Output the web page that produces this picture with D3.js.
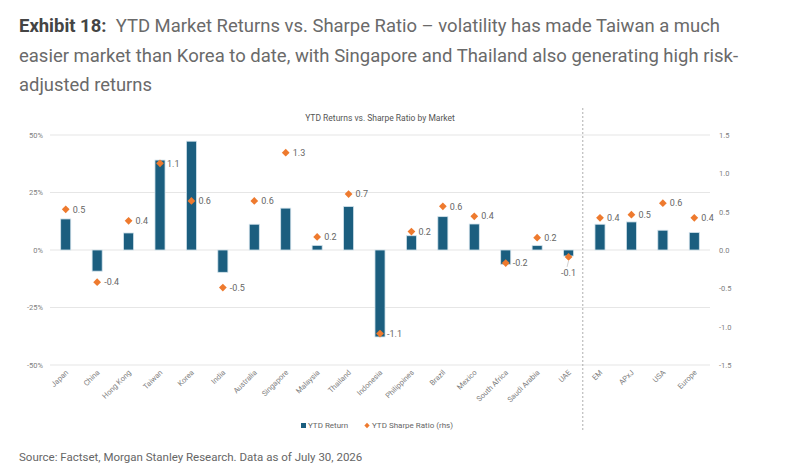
<!DOCTYPE html>
<html>
<head>
<meta charset="utf-8">
<script src="https://cdn.jsdelivr.net/npm/d3@7"></script>
<style>
  body { margin: 0; background: #fff; }
  text { font-family: Roboto, "Noto Sans", sans-serif; }
</style>
</head>
<body>
<svg id="chart" width="794" height="476"></svg>
<script>
// ---- data
const markets = ["Japan", "China", "Hong Kong", "Taiwan", "Korea", "India", "Australia", "Singapore",
  "Malaysia", "Thailand", "Indonesia", "Philippines", "Brazil", "Mexico", "South Africa",
  "Saudi Arabia", "UAE", "EM", "APxJ", "USA", "Europe"];
const ytdReturn = [13.5, -9.2, 7.4, 39.1, 47.3, -9.7, 11.2, 18.2, 2.0, 18.9, -37.8, 6.2, 14.5, 11.3,
  -6.2, 1.9, -2.6, 11.2, 12.2, 8.6, 7.6];
const ytdSharpe = [0.53, -0.42, 0.38, 1.13, 0.64, -0.49, 0.64, 1.27, 0.17, 0.73, -1.09, 0.24, 0.57,
  0.44, -0.17, 0.16, -0.09, 0.42, 0.46, 0.61, 0.42];
const leftTicks = [-50, -25, 0, 25, 50];
const rightTicks = [-1.5, -1.0, -0.5, 0.0, 0.5, 1.0, 1.5];
const titleLines = [
  "YTD Market Returns vs. Sharpe Ratio \u2013 volatility has made Taiwan a much",
  "easier market than Korea to date, with Singapore and Thailand also generating high risk-",
  "adjusted returns"
];

const svg = d3.select("#chart");
const fmt1 = v => d3.format(".1f")(v).replace("\u2212", "-");

// ---- header
const t1 = svg.append("text").attr("x", 19).attr("y", 32)
  .attr("font-size", 18).attr("fill", "#6a6a6a")
  .attr("textLength", 701).attr("lengthAdjust", "spacingAndGlyphs");
t1.append("tspan").attr("font-weight", "bold").attr("fill", "#444").text("Exhibit 18:");
t1.append("tspan").text("\u00a0 " + titleLines[0]);
svg.append("text").attr("x", 19).attr("y", 62)
  .attr("font-size", 18).attr("fill", "#6a6a6a")
  .attr("textLength", 719).attr("lengthAdjust", "spacingAndGlyphs")
  .text(titleLines[1]);
svg.append("text").attr("x", 19).attr("y", 91)
  .attr("font-size", 18).attr("fill", "#6a6a6a")
  .attr("textLength", 133).attr("lengthAdjust", "spacingAndGlyphs")
  .text(titleLines[2]);

// ---- scales
const x = d3.scaleBand().domain(markets).range([50, 710]).paddingInner(0.68).paddingOuter(0.34);
const yL = d3.scaleLinear().domain([-50, 50]).range([365, 135]);
const yR = d3.scaleLinear().domain([-1.5, 1.5]).range([365, 135]);
const cx = d => x(d) + x.bandwidth() / 2;

svg.append("text").attr("x", 380).attr("y", 121).attr("text-anchor", "middle")
  .attr("font-size", 8.5).attr("fill", "#555")
  .text("YTD Returns vs. Sharpe Ratio by Market");

// gridlines
svg.append("g").selectAll("line").data(leftTicks).join("line")
  .attr("x1", 50).attr("x2", 710)
  .attr("y1", d => yL(d)).attr("y2", d => yL(d))
  .attr("stroke", "#e6e6e6").attr("stroke-width", 1.2);

// left axis
const axL = svg.append("g").attr("transform", "translate(46,0)")
  .call(d3.axisLeft(yL).tickValues(leftTicks).tickSize(0).tickFormat(d => d + "%"));
axL.select(".domain").remove();
axL.selectAll("text").attr("font-size", 7.5).attr("fill", "#808080").attr("font-family", "Roboto");

// right axis
const axR = svg.append("g").attr("transform", "translate(716,0)")
  .call(d3.axisRight(yR).tickValues(rightTicks).tickSize(0).tickFormat(fmt1));
axR.select(".domain").remove();
axR.selectAll("text").attr("font-size", 7.5).attr("fill", "#808080").attr("font-family", "Roboto");

// separator between single markets and regions
const sepX = cx("UAE") + x.step() / 2 - 1.5;
svg.append("line").attr("x1", sepX).attr("x2", sepX).attr("y1", 108).attr("y2", 432)
  .attr("stroke", "#999").attr("stroke-width", 0.8).attr("stroke-dasharray", "2,2");

// bars
svg.append("g").selectAll("rect").data(markets).join("rect")
  .attr("x", d => x(d))
  .attr("width", x.bandwidth())
  .attr("y", (d, i) => yL(Math.max(0, ytdReturn[i])))
  .attr("height", (d, i) => Math.abs(yL(ytdReturn[i]) - yL(0)))
  .attr("fill", "#1b5e7f").attr("stroke", "#d3e3ec").attr("stroke-width", 0.8);

// sharpe markers
const diamond = d3.symbol().type(d3.symbolSquare).size(30);
svg.append("g").selectAll("path").data(markets).join("path")
  .attr("d", diamond)
  .attr("transform", (d, i) => `translate(${cx(d)},${yR(ytdSharpe[i])}) rotate(45)`)
  .attr("fill", "#ee7a2e");

// labels
markets.forEach((m, i) => {
  const v = fmt1(ytdSharpe[i]);
  if (m === "UAE") {
    svg.append("line").attr("x1", cx(m)).attr("x2", cx(m) - 1.5)
      .attr("y1", yR(ytdSharpe[i]) + 4).attr("y2", yR(ytdSharpe[i]) + 10)
      .attr("stroke", "#bbb").attr("stroke-width", 0.7);
    svg.append("text").attr("x", cx(m)).attr("y", yR(ytdSharpe[i]) + 19)
      .attr("text-anchor", "middle").attr("font-size", 9).attr("fill", "#666").text(v);
  } else {
    svg.append("text").attr("x", cx(m) + 7).attr("y", yR(ytdSharpe[i]) + 3.2)
      .attr("font-size", 9).attr("fill", "#666").text(v);
  }
});

// category labels
svg.append("g").selectAll("text").data(markets).join("text")
  .attr("transform", d => `translate(${cx(d) + 3},${373}) rotate(-45)`)
  .attr("text-anchor", "end").attr("font-size", 7.5).attr("fill", "#808080")
  .text(d => d);

// legend
svg.append("rect").attr("x", 301).attr("y", 423).attr("width", 5).attr("height", 5).attr("fill", "#1b5e7f");
svg.append("text").attr("x", 308).attr("y", 428).attr("font-size", 8).attr("fill", "#666").text("YTD Return");
svg.append("path").attr("d", d3.symbol().type(d3.symbolSquare).size(14))
  .attr("transform", "translate(367,425.5) rotate(45)").attr("fill", "#ee7a2e");
svg.append("text").attr("x", 372).attr("y", 428).attr("font-size", 8).attr("fill", "#666").text("YTD Sharpe Ratio (rhs)");

// source
svg.append("text").attr("x", 19).attr("y", 461).attr("font-size", 11.5).attr("fill", "#666")
  .text("Source: Factset, Morgan Stanley Research. Data as of July 30, 2026");
</script>
</body>
</html>
